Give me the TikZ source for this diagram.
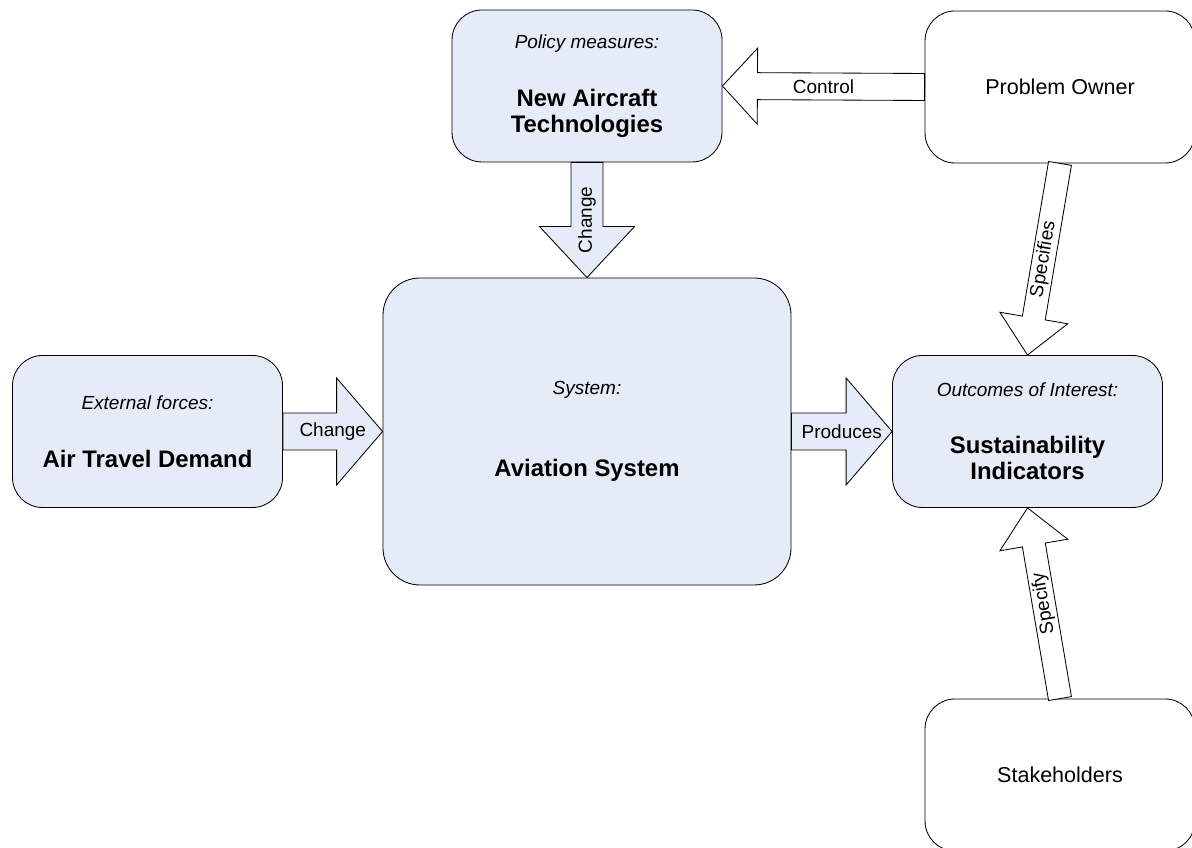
\documentclass[tikz,border=0pt]{standalone}
\usepackage{fontspec}
\setmainfont{Liberation Sans}
\usetikzlibrary{calc}
\definecolor{boxblue}{RGB}{230,236,247}
\newcommand{\subtitle}{\fontsize{13.5}{16}\selectfont\itshape}
\newcommand{\blockarrow}[8]{%
	\coordinate (ba-s) at (#1);
	\coordinate (ba-t) at (#2);
	\coordinate (ba-h) at ($(ba-t)!#5!(ba-s)$);
	\draw[fill=#6] ($(ba-s)!#3!90:(ba-t)$) -- ($(ba-h)!#3!90:(ba-t)$) -- ($(ba-h)!#4!90:(ba-t)$) -- (ba-t)
		-- ($(ba-h)!#4!-90:(ba-t)$) -- ($(ba-h)!#3!-90:(ba-t)$) -- ($(ba-s)!#3!-90:(ba-t)$) -- cycle;
	\path (ba-s) -- node[arrowtext,#7]{#8} (ba-t);
}
\begin{document}
\begin{tikzpicture}[scale=1, line width=0.6pt,
		box/.style={draw, rounded corners=0.75cm, minimum width=6.75cm, minimum height=3.8cm, align=center, inner sep=0pt, font=\fontsize{17}{18.5}\selectfont},
		fillbox/.style={box, fill=boxblue},
		plainbox/.style={box, font=\fontsize{15.3}{18}\selectfont},
		arrowtext/.style={inner sep=0pt, font=\fontsize{13.5}{16}\selectfont}]
			\useasboundingbox (0,0) rectangle (29.8,21.2);
			\node[fillbox] (pol) at (14.675,19.05) {{\subtitle Policy measures:}\\[23pt]\bfseries New Aircraft\\\bfseries Technologies};
			\node[plainbox] (po) at (26.5,19.025) {Problem Owner};
			\node[fillbox] (atd) at (3.6875,10.4125) {{\subtitle External forces:}\\[23pt]\bfseries Air Travel Demand};
			\node[fillbox, rounded corners=0.925cm, minimum width=10.2cm, minimum height=7.675cm] (avi) at (14.675,10.4125) {{\subtitle System:}\\[40pt]\bfseries Aviation System};
			\node[fillbox] (si) at (25.6875,10.4125) {{\subtitle Outcomes of Interest:}\\[22pt]\bfseries Sustainability\\\bfseries Indicators};
			\node[plainbox] (sh) at (26.5,1.825) {Stakeholders};
			\blockarrow{po.west}{pol.east}{0.3375cm}{0.95cm}{0.875cm}{white}{}{Control}
			\blockarrow{pol.south}{avi.north}{0.4cm}{1.1875cm}{1.275cm}{boxblue}{rotate=90}{Change}
			\blockarrow{atd.east}{avi.west}{0.4625cm}{1.3375cm}{1.15cm}{boxblue}{}{Change}
			\blockarrow{avi.east}{si.west}{0.4625cm}{1.3375cm}{1.15cm}{boxblue}{}{Produces}
			\blockarrow{po.south}{si.north}{0.29cm}{0.86cm}{0.94cm}{white}{rotate=80.4}{Specifies}
			\blockarrow{sh.north}{si.south}{0.29cm}{0.86cm}{0.94cm}{white}{rotate=99.6}{Specify}
		\end{tikzpicture}
\end{document}
